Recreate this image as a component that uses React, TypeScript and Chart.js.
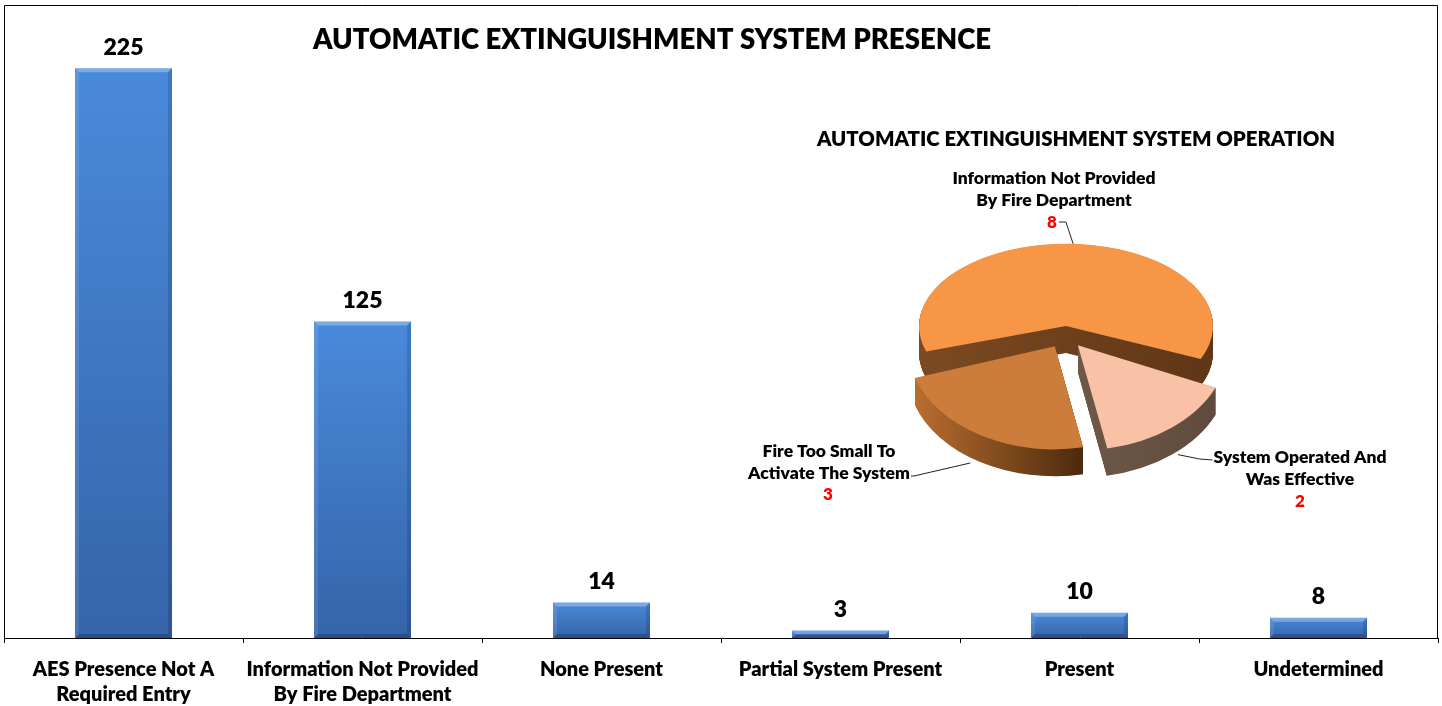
import React, { useEffect, useRef } from 'react';
import { Chart, registerables, ArcElement } from 'chart.js';

Chart.register(...registerables);

const FONT = 'Lato, "Open Sans", "DejaVu Sans", sans-serif';
const W = 1442;
const H = 706;

// ---------- Bar chart data ----------
const presenceCategories: (string | string[])[] = [
  ['AES Presence Not A', 'Required Entry'],
  ['Information Not Provided', 'By Fire Department'],
  'None Present',
  'Partial System Present',
  'Present',
  'Undetermined',
];
const presenceValues = [225, 125, 14, 3, 10, 8];
const presenceAxisMax = 250;
const presenceTitle = 'AUTOMATIC EXTINGUISHMENT SYSTEM PRESENCE';

// ---------- Pie chart data ----------
const operationCategories = [
  'Information Not Provided By Fire Department',
  'System Operated And Was Effective',
  'Fire Too Small To Activate The System',
];
const operationLabelLines = [
  ['Information Not Provided', 'By Fire Department'],
  ['System Operated And', 'Was Effective'],
  ['Fire Too Small To', 'Activate The System'],
];
const operationValues = [8, 2, 3];
const operationTitle = 'AUTOMATIC EXTINGUISHMENT SYSTEM OPERATION';

// ---------- Styles / layout ----------
const operationColors = ['#F79646', '#F9C1A6', '#CD7D3B'];
const operationSideColors = [
  ['#7C4A21', '#5F3616'],
  ['#6E5848', '#5F4B3D'],
  ['#B86D2F', '#4B2A0E'],
];
const operationExplode = [0, 76, 88];
const sliceSquish = [0.56, 0.7, 0.7];
const sliceDrop = [0, 9, 7];

const PIE_CX = 1066;
const PIE_CY = 326;
const PIE_R = 147;
const PIE_DEPTH = 27;
const PIE_ROTATION = 252;

const pieLabelLayout = [
  { x: 1054, y: 178, numX: 1052, numY: 223, side: 'num', anchorDx: 0, anchorDy: 0 },
  { x: 1300, y: 457, numX: 1300, numY: 502, side: 'left', anchorDx: 8, anchorDy: 29 },
  { x: 829, y: 451, numX: 828, numY: 495, side: 'right', anchorDx: -10, anchorDy: 28 },
];

const baseArcDraw = (ArcElement as any).prototype.draw;

function sliceTransform(ctx: CanvasRenderingContext2D, cy: number, i: number) {
  ctx.translate(0, cy + sliceDrop[i]);
  ctx.scale(1, sliceSquish[i]);
  ctx.translate(0, -cy);
}

const barDecor = {
  id: 'barDecor',
  afterDatasetsDraw(chart: any) {
    const ctx = chart.ctx as CanvasRenderingContext2D;
    const meta = chart.getDatasetMeta(0);
    meta.data.forEach((bar: any, i: number) => {
      const { x, y, base, width } = bar.getProps(['x', 'y', 'base', 'width'], true);
      const l = x - width / 2;
      const r = x + width / 2;
      const h = base - y;
      const bv = Math.min(4, h / 2);
      ctx.save();
      ctx.fillStyle = 'rgba(255,255,255,0.28)';
      ctx.beginPath();
      ctx.moveTo(l, y); ctx.lineTo(r, y); ctx.lineTo(r - bv, y + bv); ctx.lineTo(l + bv, y + bv);
      ctx.closePath(); ctx.fill();
      ctx.fillStyle = 'rgba(255,255,255,0.10)';
      ctx.beginPath();
      ctx.moveTo(l, y); ctx.lineTo(l + bv, y + bv); ctx.lineTo(l + bv, base - bv); ctx.lineTo(l, base);
      ctx.closePath(); ctx.fill();
      ctx.fillStyle = 'rgba(0,0,40,0.14)';
      ctx.beginPath();
      ctx.moveTo(r, y); ctx.lineTo(r - bv, y + bv); ctx.lineTo(r - bv, base - bv); ctx.lineTo(r, base);
      ctx.closePath(); ctx.fill();
      ctx.fillStyle = 'rgba(0,0,40,0.22)';
      ctx.beginPath();
      ctx.moveTo(l, base); ctx.lineTo(r, base); ctx.lineTo(r - bv, base - bv); ctx.lineTo(l + bv, base - bv);
      ctx.closePath(); ctx.fill();
      ctx.fillStyle = '#000';
      ctx.font = `800 23px ${FONT}`;
      ctx.textAlign = 'center';
      ctx.textBaseline = 'middle';
      ctx.fillText(String(presenceValues[i]), x, y - 21);
      ctx.restore();
    });
  },
  afterDraw(chart: any) {
    const ctx = chart.ctx as CanvasRenderingContext2D;
    const a = chart.chartArea;
    ctx.save();
    ctx.strokeStyle = '#000';
    ctx.lineWidth = 1;
    ctx.beginPath();
    ctx.moveTo(a.left + 0.5, a.bottom);
    ctx.lineTo(a.left + 0.5, a.top + 0.5);
    ctx.lineTo(a.right - 0.5, a.top + 0.5);
    ctx.lineTo(a.right - 0.5, a.bottom);
    ctx.stroke();
    ctx.fillStyle = '#000';
    ctx.font = `800 27.6px ${FONT}`;
    ctx.textAlign = 'center';
    ctx.textBaseline = 'middle';
    ctx.fillText(presenceTitle, 652, 40);
    ctx.restore();
  },
};

const pie3d = {
  id: 'pie3d',
  beforeDatasetsDraw(chart: any) {
    const ctx = chart.ctx as CanvasRenderingContext2D;
    const arcs = chart.getDatasetMeta(0).data as any[];
    const cy = arcs.length ? arcs[0].y : 0;
    arcs.forEach((arc: any, i: number) => {
      // top face: drawn by Chart.js, seen in per-slice perspective
      arc.draw = function (c: CanvasRenderingContext2D, area: any) {
        c.save();
        sliceTransform(c, cy, i);
        baseArcDraw.call(this, c, area);
        c.restore();
      };
      // side walls
      const { x, y, startAngle, endAngle, outerRadius, circumference } = arc;
      const off = (operationExplode[i] || 0) / 4;
      const half = (startAngle + endAngle) / 2;
      const dx = Math.cos(half) * off;
      const dy = Math.sin(half) * off;
      const rOff = off * (1 - Math.sin(Math.min(Math.PI, circumference)));
      const rr = outerRadius + rOff;
      let minX = x + dx;
      let maxX = x + dx;
      for (let t = startAngle; t <= endAngle; t += 0.02) {
        const px = x + dx + rr * Math.cos(t);
        minX = Math.min(minX, px);
        maxX = Math.max(maxX, px);
      }
      ctx.save();
      sliceTransform(ctx, cy, i);
      const g = ctx.createLinearGradient(minX, 0, maxX, 0);
      g.addColorStop(0, operationSideColors[i][0]);
      g.addColorStop(1, operationSideColors[i][1]);
      ctx.fillStyle = g;
      const sq = sliceSquish[i];
      for (let k = PIE_DEPTH; k >= 0.5; k -= 0.5) {
        const ky = k / sq;
        ctx.beginPath();
        ctx.moveTo(x + dx, y + dy + ky);
        ctx.arc(x + dx, y + dy + ky, rr, startAngle, endAngle);
        ctx.closePath();
        ctx.fill();
      }
      ctx.restore();
    });
  },
  afterDatasetsDraw(chart: any) {
    const ctx = chart.ctx as CanvasRenderingContext2D;
    const arcs = chart.getDatasetMeta(0).data as any[];
    ctx.save();
    ctx.fillStyle = '#000';
    ctx.textAlign = 'center';
    ctx.textBaseline = 'middle';
    ctx.font = `800 20.4px ${FONT}`;
    ctx.fillText(operationTitle, 1076, 139);

    arcs.forEach((arc: any, i: number) => {
      const L = pieLabelLayout[i];
      const { x, y, startAngle, endAngle, outerRadius } = arc;
      const off = (operationExplode[i] || 0) / 4;
      const half = (startAngle + endAngle) / 2;
      const ax = x + Math.cos(half) * off + outerRadius * Math.cos(half) + L.anchorDx;
      const ay = y + sliceDrop[i] + (Math.sin(half) * off + outerRadius * Math.sin(half)) * sliceSquish[i] + L.anchorDy;
      const lines = operationLabelLines[i];
      ctx.font = `800 17.5px ${FONT}`;
      ctx.fillStyle = '#000';
      lines.forEach((ln, j) => ctx.fillText(ln, L.x, L.y + j * 22.5));
      ctx.font = `800 17px ${FONT}`;
      ctx.fillStyle = '#FF0000';
      ctx.fillText(String(operationValues[i]), L.numX, L.numY);
      ctx.strokeStyle = '#222';
      ctx.lineWidth = 1;
      ctx.beginPath();
      if (L.side === 'num') {
        const w = ctx.measureText(String(operationValues[i])).width;
        ctx.moveTo(L.numX + w / 2 + 2, L.numY - 1);
        ctx.lineTo(L.numX + w / 2 + 9, L.numY - 1);
      } else if (L.side === 'left') {
        ctx.font = `800 17.5px ${FONT}`;
        const w = ctx.measureText(lines[0]).width;
        ctx.moveTo(L.x - w / 2 - 1, L.y + 3);
        ctx.lineTo(L.x - w / 2 - 14, L.y + 2);
      } else {
        ctx.font = `800 17.5px ${FONT}`;
        const w = ctx.measureText(lines[1]).width;
        ctx.moveTo(L.x + w / 2 + 1, L.y + 25);
        ctx.lineTo(L.x + w / 2 + 4, L.y + 25);
      }
      ctx.lineTo(ax, ay);
      ctx.stroke();
    });
    ctx.restore();
  },
};

export default function App() {
  const barRef = useRef<HTMLCanvasElement>(null);
  const pieRef = useRef<HTMLCanvasElement>(null);

  useEffect(() => {
    const barChart = new Chart(barRef.current as HTMLCanvasElement, {
      type: 'bar',
      data: {
        labels: presenceCategories as any,
        datasets: [
          {
            data: presenceValues,
            backgroundColor: (c: any) => {
              const chart = c.chart;
              if (!chart.chartArea || !c.parsed || !chart.scales.y) return '#3F7CCB';
              const ys = chart.scales.y;
              const top = ys.getPixelForValue(c.parsed.y);
              const bot = ys.getPixelForValue(0);
              if (!isFinite(top) || !isFinite(bot) || bot - top < 1) return '#3F7CCB';
              const g = chart.ctx.createLinearGradient(0, top, 0, bot);
              g.addColorStop(0, '#4A8ADA');
              g.addColorStop(1, '#3564A9');
              return g;
            },
            borderWidth: 0,
            barPercentage: 0.406,
            categoryPercentage: 1,
          },
        ],
      },
      options: {
        responsive: false,
        animation: false,
        events: [],
        layout: { padding: { left: 4, right: 4, top: 5, bottom: 0 } },
        plugins: { legend: { display: false }, title: { display: false }, tooltip: { enabled: false } },
        scales: {
          x: {
            offset: true,
            grid: { offset: true, drawOnChartArea: false, drawTicks: true, tickLength: 5, color: '#000', lineWidth: 1 },
            border: { display: true, color: '#000', width: 1 },
            ticks: {
              color: '#000',
              font: { family: FONT, size: 20, weight: '800', lineHeight: 1.25 },
              padding: 14,
              maxRotation: 0,
              minRotation: 0,
              autoSkip: false,
            },
            afterFit: (s: any) => { s.height = 68; },
          },
          y: { display: false, min: 0, max: presenceAxisMax },
        },
      },
      plugins: [barDecor],
    } as any);

    const pieChart = new Chart(pieRef.current as HTMLCanvasElement, {
      type: 'pie',
      data: {
        labels: operationCategories,
        datasets: [
          {
            data: operationValues,
            backgroundColor: operationColors,
            borderWidth: 0,
            offset: operationExplode,
            clip: false,
          },
        ],
      },
      options: {
        responsive: false,
        animation: false,
        events: [],
        radius: PIE_R,
        rotation: PIE_ROTATION,
        layout: {
          padding: { left: PIE_CX - 200, right: W - (PIE_CX + 200), top: PIE_CY - 200, bottom: H - (PIE_CY + 200) },
        },
        plugins: { legend: { display: false }, title: { display: false }, tooltip: { enabled: false } },
      },
      plugins: [pie3d],
    } as any);

    return () => {
      barChart.destroy();
      pieChart.destroy();
    };
  }, []);

  return (
    <div style={{ position: 'absolute', left: 0, top: 0, width: W, height: H, background: '#fff', overflow: 'hidden' }}>
      <canvas ref={barRef} width={W} height={H} style={{ position: 'absolute', left: 0, top: 0, width: W, height: H }} />
      <canvas ref={pieRef} width={W} height={H} style={{ position: 'absolute', left: 0, top: 0, width: W, height: H }} />
    </div>
  );
}
